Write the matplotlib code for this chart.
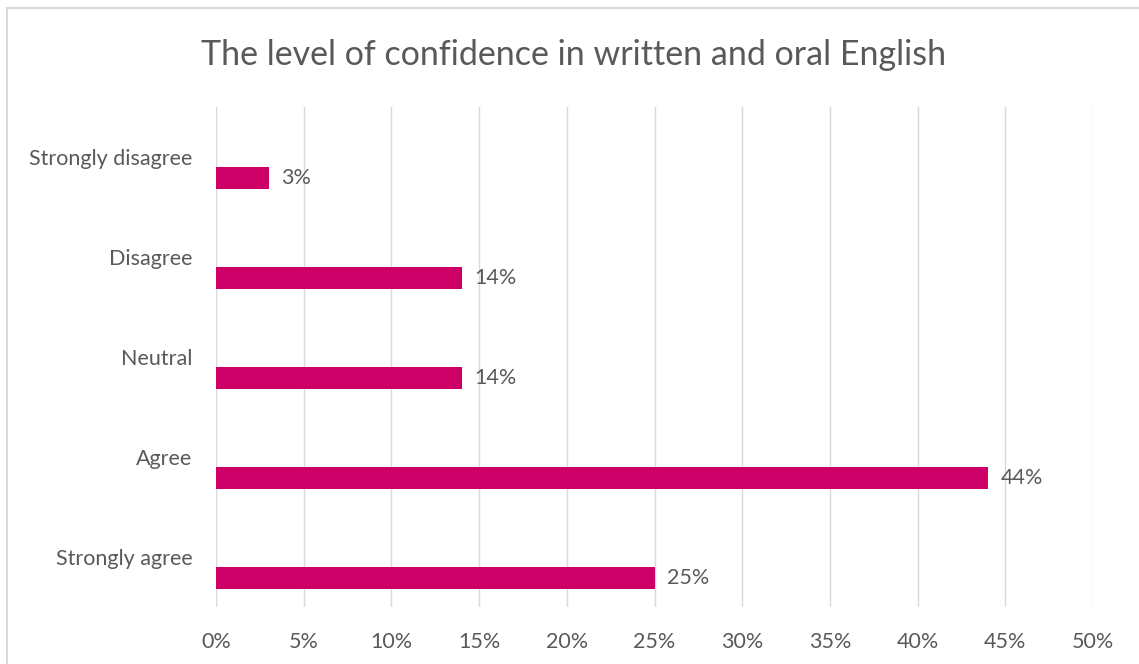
import matplotlib
matplotlib.use("Agg")
import matplotlib.pyplot as plt
from matplotlib.lines import Line2D
from matplotlib.ticker import FuncFormatter

plt.rcParams['font.family'] = ['Lato', 'DejaVu Sans']

# Survey responses, listed from the bottom of the chart upwards
categories = ["Strongly agree", "Agree", "Neutral", "Disagree", "Strongly disagree"]
shares = [25, 44, 14, 14, 3]
value_labels = ["25%", "44%", "14%", "14%", "3%"]
x_ticks = [0, 5, 10, 15, 20, 25, 30, 35, 40, 45, 50]
title = "The level of confidence in written and oral English"

TEXT = "#595959"
GRID = "#d9d9d9"
BAR = "#cc0066"

W, H = 1139, 664
fig = plt.figure(figsize=(W / 100, H / 100), dpi=100)
ax = fig.add_axes([216 / W, 57 / H, 877 / W, 500 / H])

pos = list(range(len(categories)))
bar_offset = 0.21
ax.barh([p - bar_offset for p in pos], shares, height=0.22, color=BAR, zorder=3)

for p, v, lab in zip(pos, shares, value_labels):
    ax.annotate(lab, (v, p - bar_offset), xytext=(9, 0), textcoords="offset points",
                ha="left", va="center", fontsize=15.5, color=TEXT)

ax.set_xlim(0, 50)
ax.set_ylim(-0.5, len(categories) - 0.5)
ax.set_xticks(x_ticks)
ax.xaxis.set_major_formatter(FuncFormatter(lambda v, _: f"{v:.0f}%"))
ax.set_yticks(pos)
ax.set_yticklabels(categories)

ax.grid(axis="x", color=GRID, linewidth=1.0, zorder=0)
for s in ax.spines.values():
    s.set_visible(False)
ax.tick_params(axis="both", length=0, labelsize=15.5, labelcolor=TEXT)
ax.tick_params(axis="y", pad=17)
ax.tick_params(axis="x", pad=18)

fig.text(574 / W, 1 - 55 / H, title, ha="center", va="center", fontsize=24.5, color=TEXT)

# Chart-area frame (left and top edges visible)
fig.add_artist(Line2D([7 / W, 7 / W], [0, 1 - 8 / H], transform=fig.transFigure,
                      color=GRID, linewidth=1.5))
fig.add_artist(Line2D([7 / W, 1], [1 - 8 / H, 1 - 8 / H], transform=fig.transFigure,
                      color=GRID, linewidth=1.5))

fig.savefig("out.png", dpi=100, facecolor="white")
